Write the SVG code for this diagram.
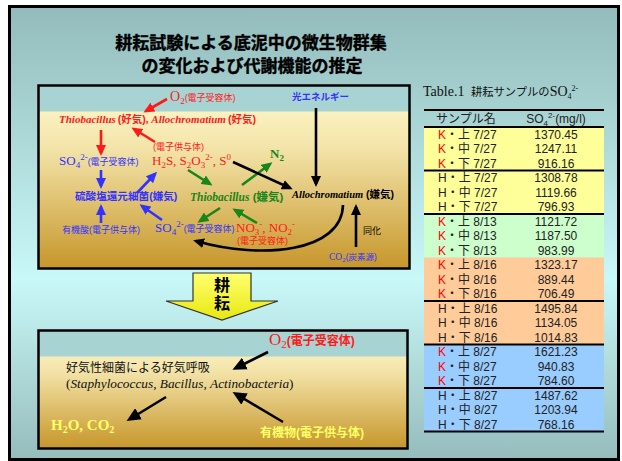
<svg xmlns="http://www.w3.org/2000/svg" width="622" height="461" viewBox="0 0 622 461">
<defs>
<linearGradient id="bg" x1="0" y1="0" x2="0" y2="1">
<stop offset="0" stop-color="#93BBBB"/><stop offset="0.6" stop-color="#C9F8F8"/><stop offset="1" stop-color="#96BCBC"/>
</linearGradient>
<linearGradient id="soil" x1="0" y1="0" x2="0" y2="1">
<stop offset="0" stop-color="#FFFBD0"/><stop offset="0.35" stop-color="#F3E3A8"/><stop offset="1" stop-color="#C6962A"/>
</linearGradient>
<linearGradient id="yel" x1="0" y1="0" x2="0" y2="1">
<stop offset="0" stop-color="#FFFF70"/><stop offset="1" stop-color="#E8E810"/>
</linearGradient>
<marker id="mr" markerUnits="userSpaceOnUse" markerWidth="11" markerHeight="10" refX="8" refY="5" orient="auto"><path d="M0,0 L11,5 L0,10 z" fill="#FF1A1A"/></marker>
<marker id="mb" markerUnits="userSpaceOnUse" markerWidth="11" markerHeight="10" refX="8" refY="5" orient="auto"><path d="M0,0 L11,5 L0,10 z" fill="#3333FF"/></marker>
<marker id="mg" markerUnits="userSpaceOnUse" markerWidth="11" markerHeight="10" refX="8" refY="5" orient="auto"><path d="M0,0 L11,5 L0,10 z" fill="#18861A"/></marker>
<marker id="mk" markerUnits="userSpaceOnUse" markerWidth="11" markerHeight="10" refX="8" refY="5" orient="auto"><path d="M0,0 L11,5 L0,10 z" fill="#000"/></marker>
<marker id="mK" markerUnits="userSpaceOnUse" markerWidth="14" markerHeight="13" refX="10" refY="6.5" orient="auto"><path d="M0,0 L14,6.5 L0,13 z" fill="#000"/></marker>
</defs>
<style>
.jp{font-family:"Liberation Sans","Noto Sans CJK JP",sans-serif}
.tm{font-family:"Liberation Serif","Noto Sans CJK JP",serif}
.b{font-weight:bold}
.i{font-style:italic}
.red{fill:#FF1A1A}
.blu{fill:#3333FF}
.grn{fill:#18861A}
.sm{font-size:9px}
.ar{fill:none;stroke-width:2.6}
.tr{font-family:"Liberation Sans","Noto Sans CJK JP",sans-serif;font-size:12px;fill:#222}
.tv{font-family:"Liberation Sans",sans-serif;font-size:12px;fill:#222;text-anchor:middle}
.kk{fill:#FF0000}
.gl{stroke:#000;stroke-width:2.2}
</style>

<rect x="9.5" y="6.5" width="609" height="453" fill="url(#bg)" stroke="#000" stroke-width="3"/>

<g id="title" class="jp b" font-size="17" text-anchor="middle" fill="#000" stroke="#000" stroke-width="0.4">
<text x="251" y="49">耕耘試験による底泥中の微生物群集</text>
<text x="252" y="72">の変化および代謝機能の推定</text>
</g>

<!-- upper box -->
<g id="upper-box">
<rect x="38.5" y="85.5" width="371" height="183" fill="url(#soil)"/>
<rect x="38.5" y="85.5" width="371" height="26" fill="#A8D3D3"/>
<rect x="38.5" y="85.5" width="371" height="183" fill="none" stroke="#000" stroke-width="2.5"/>
</g>

<g id="connectors">
<line class="ar" stroke="#FF1A1A" marker-end="url(#mr)" x1="167" y1="99" x2="146" y2="111"/>
<line class="ar" stroke="#FF1A1A" marker-end="url(#mr)" x1="101" y1="130" x2="101" y2="153"/>
<line class="ar" stroke="#FF1A1A" marker-end="url(#mr)" x1="155" y1="142" x2="134" y2="129"/>
<line class="ar" stroke="#3333FF" marker-end="url(#mb)" x1="101" y1="170" x2="101" y2="186"/>
<line class="ar" stroke="#3333FF" marker-end="url(#mb)" x1="137" y1="193" x2="155" y2="174"/>
<line class="ar" stroke="#3333FF" marker-end="url(#mb)" x1="101" y1="223" x2="101" y2="207"/>
<line class="ar" stroke="#3333FF" marker-end="url(#mb)" x1="162" y1="220" x2="142" y2="206"/>
<line class="ar" stroke="#18861A" marker-end="url(#mg)" x1="188" y1="170" x2="210" y2="184"/>
<line class="ar" stroke="#18861A" marker-end="url(#mg)" x1="242" y1="185" x2="270" y2="164"/>
<line class="ar" stroke="#18861A" marker-end="url(#mg)" x1="220" y1="208" x2="200" y2="221"/>
<line class="ar" stroke="#18861A" marker-end="url(#mg)" x1="257" y1="223" x2="235" y2="210"/>
<line class="ar" stroke="#000" marker-end="url(#mk)" x1="233" y1="162" x2="290" y2="188"/>
<line class="ar" stroke="#000" marker-end="url(#mk)" x1="316" y1="108" x2="316" y2="184"/>
<line class="ar" stroke="#000" marker-end="url(#mk)" x1="356" y1="247" x2="356" y2="207"/>
<path class="ar" stroke="#000" marker-end="url(#mk)" d="M343,205 C342,252 262,260 196,241"/>
</g>

<g id="n-o2-top"><text x="170" y="101" class="tm red" font-size="14">O<tspan font-size="9" dy="3">2</tspan><tspan class="jp" font-size="9" dy="-3">(電子受容体)</tspan></text></g>
<g id="n-aerobic"><text x="59" y="123" class="tm b red" font-size="11"><tspan class="i">Thiobacillus</tspan><tspan class="jp" font-size="10.5" dx="2">(好気)</tspan>, <tspan class="i">Allochromatium</tspan><tspan class="jp" font-size="10.5" dx="2">(好気)</tspan></text></g>
<g id="n-donor1"><text x="153" y="150" class="jp red sm">(電子供与体)</text></g>
<g id="n-so4-top"><text x="59" y="165" class="tm blu" font-size="13">SO<tspan font-size="9" dy="3">4</tspan><tspan font-size="9" dy="-8">2-</tspan><tspan class="jp" font-size="9" dy="5">(電子受容体)</tspan></text></g>
<g id="n-h2s"><text x="152" y="165" class="tm red" font-size="13">H<tspan font-size="9" dy="3">2</tspan><tspan dy="-3">S, S</tspan><tspan font-size="9" dy="3">2</tspan><tspan dy="-3">O</tspan><tspan font-size="9" dy="3">3</tspan><tspan font-size="9" dy="-8">2-</tspan><tspan dy="5">, S</tspan><tspan font-size="9" dy="-5">0</tspan></text></g>
<g id="n-n2"><text x="270" y="158" class="tm b grn" font-size="13">N<tspan font-size="9" dy="3">2</tspan></text></g>
<g id="n-light"><text x="292" y="100" class="jp b blu" font-size="9.5">光エネルギー</text></g>
<g id="n-srb"><text x="75" y="200" class="jp b blu" font-size="10.6">硫酸塩還元細菌(嫌気)</text></g>
<g id="n-thio-an"><text x="190" y="201" class="tm b grn" font-size="11.5"><tspan class="i">Thiobacillus</tspan><tspan class="jp"> (嫌気)</tspan></text></g>
<g id="n-allo-an"><text x="292" y="198" class="tm b" font-size="10.5" fill="#000"><tspan class="i">Allochromatium</tspan><tspan class="jp"> (嫌気)</tspan></text></g>
<g id="n-orgacid"><text x="62" y="233" class="jp blu sm">有機酸(電子供与体)</text></g>
<g id="n-so4-low"><text x="155" y="232" class="tm blu" font-size="13">SO<tspan font-size="9" dy="3">4</tspan><tspan font-size="9" dy="-8">2-</tspan><tspan class="jp" font-size="9" dy="5">(電子受容体)</tspan></text></g>
<g id="n-no3"><text x="236" y="232" class="tm red" font-size="13">NO<tspan font-size="9" dy="3">3</tspan><tspan font-size="9" dy="-8">-</tspan><tspan dy="5">, NO</tspan><tspan font-size="9" dy="3">2</tspan><tspan font-size="9" dy="-8">-</tspan></text>
<text x="237" y="244" class="jp red sm">(電子受容体)</text></g>
<g id="n-assim"><text x="363" y="234" class="jp sm" fill="#000">同化</text></g>
<g id="n-co2"><text x="329" y="260" class="tm blu" font-size="9.5">CO<tspan font-size="7" dy="2">2</tspan><tspan class="jp" font-size="8.5" dy="-2">(炭素源)</tspan></text></g>

<!-- tillage arrow -->
<g id="n-tillage">
<polygon points="193,273 251,273 251,301 278,301 222,320 166,301 193,301" fill="url(#yel)" stroke="#333" stroke-width="1.2"/>
<text x="222" y="291" class="jp b" font-size="16" text-anchor="middle" fill="#000">耕</text>
<text x="222" y="309" class="jp b" font-size="16" text-anchor="middle" fill="#000">耘</text>
</g>

<!-- lower box -->
<g id="lower-box">
<rect x="38.5" y="330.5" width="369" height="118" fill="url(#soil)"/>
<rect x="38.5" y="330.5" width="369" height="26" fill="#A8D3D3"/>
<rect x="38.5" y="330.5" width="369" height="118" fill="none" stroke="#000" stroke-width="2.5"/>
</g>
<g id="connectors-lower">
<line class="ar" stroke="#000" stroke-width="3.5" marker-end="url(#mK)" x1="268" y1="352" x2="236" y2="368"/>
<line class="ar" stroke="#000" stroke-width="3.5" marker-end="url(#mK)" x1="166" y1="397" x2="130" y2="419"/>
<line class="ar" stroke="#000" stroke-width="3.5" marker-end="url(#mK)" x1="283" y1="422" x2="236" y2="394"/>
</g>
<g id="n-o2-low"><text x="269" y="345" class="tm red" font-size="17">O<tspan font-size="11" dy="3">2</tspan><tspan class="jp b" font-size="12" dy="-3">(電子受容体)</tspan></text></g>
<g id="n-aerobic-resp">
<text x="66" y="372" class="jp" font-size="12" fill="#111">好気性細菌による好気呼吸</text>
<text x="66" y="388" class="tm" font-size="13.3" fill="#111">(<tspan class="i">Staphylococcus</tspan>, <tspan class="i">Bacillus</tspan>, <tspan class="i">Actinobacteria</tspan>)</text>
</g>
<g id="n-h2o"><text x="51" y="430" class="tm b" font-size="15" fill="#FFFF66">H<tspan font-size="10" dy="3">2</tspan><tspan dy="-3">O, CO</tspan><tspan font-size="10" dy="3">2</tspan></text></g>
<g id="n-organic"><text x="260" y="437" class="jp b" font-size="12" fill="#FFFF66">有機物(電子供与体)</text></g>

<!-- table -->
<g id="table">
<text x="423" y="96" class="tm" font-size="14" fill="#111">Table.1 <tspan class="jp" font-size="11.3" dx="3">耕耘サンプルの</tspan>SO<tspan font-size="8" dy="3">4</tspan><tspan font-size="8" dy="-8">2-</tspan></text>
<rect x="424" y="127" width="180" height="87" fill="#FFFF99"/>
<rect x="424" y="214" width="180" height="43.5" fill="#CCFFCC"/>
<rect x="424" y="257.5" width="180" height="87" fill="#FFCC99"/>
<rect x="424" y="344.5" width="180" height="87" fill="#99CCFF"/>
<line class="gl" x1="424" y1="110" x2="604" y2="110"/>
<line class="gl" x1="424" y1="127" x2="604" y2="127"/>
<line class="gl" x1="424" y1="170.5" x2="604" y2="170.5"/>
<line class="gl" x1="424" y1="214" x2="604" y2="214"/>
<line class="gl" x1="424" y1="301" x2="604" y2="301"/>
<line class="gl" x1="424" y1="344.5" x2="604" y2="344.5"/>
<line class="gl" x1="424" y1="388" x2="604" y2="388"/>
<line class="gl" x1="424" y1="431.5" x2="604" y2="431.5"/>
<text x="436" y="123" class="tr" font-size="12.5">サンプル名</text>
<text x="556" y="123" class="tv">SO<tspan font-size="8" dy="3">4</tspan><tspan font-size="8" dy="-8">2-</tspan><tspan dy="5">(mg/l)</tspan></text>

<text x="438" y="138.5" class="tr"><tspan class="kk">K</tspan>・上 7/27</text><text x="556" y="138.5" class="tv">1370.45</text>
<text x="438" y="153" class="tr"><tspan class="kk">K</tspan>・中 7/27</text><text x="556" y="153" class="tv">1247.11</text>
<text x="438" y="167.5" class="tr"><tspan class="kk">K</tspan>・下 7/27</text><text x="556" y="167.5" class="tv">916.16</text>
<text x="438" y="182" class="tr">H・上 7/27</text><text x="556" y="182" class="tv">1308.78</text>
<text x="438" y="196.5" class="tr">H・中 7/27</text><text x="556" y="196.5" class="tv">1119.66</text>
<text x="438" y="211" class="tr">H・下 7/27</text><text x="556" y="211" class="tv">796.93</text>
<text x="438" y="225.5" class="tr"><tspan class="kk">K</tspan>・上 8/13</text><text x="556" y="225.5" class="tv">1121.72</text>
<text x="438" y="240" class="tr"><tspan class="kk">K</tspan>・中 8/13</text><text x="556" y="240" class="tv">1187.50</text>
<text x="438" y="254.5" class="tr"><tspan class="kk">K</tspan>・下 8/13</text><text x="556" y="254.5" class="tv">983.99</text>
<text x="438" y="269" class="tr"><tspan class="kk">K</tspan>・上 8/16</text><text x="556" y="269" class="tv">1323.17</text>
<text x="438" y="283.5" class="tr"><tspan class="kk">K</tspan>・中 8/16</text><text x="556" y="283.5" class="tv">889.44</text>
<text x="438" y="298" class="tr"><tspan class="kk">K</tspan>・下 8/16</text><text x="556" y="298" class="tv">706.49</text>
<text x="438" y="312.5" class="tr">H・上 8/16</text><text x="556" y="312.5" class="tv">1495.84</text>
<text x="438" y="327" class="tr">H・中 8/16</text><text x="556" y="327" class="tv">1134.05</text>
<text x="438" y="341.5" class="tr">H・下 8/16</text><text x="556" y="341.5" class="tv">1014.83</text>
<text x="438" y="356" class="tr"><tspan class="kk">K</tspan>・上 8/27</text><text x="556" y="356" class="tv">1621.23</text>
<text x="438" y="370.5" class="tr"><tspan class="kk">K</tspan>・中 8/27</text><text x="556" y="370.5" class="tv">940.83</text>
<text x="438" y="385" class="tr"><tspan class="kk">K</tspan>・下 8/27</text><text x="556" y="385" class="tv">784.60</text>
<text x="438" y="399.5" class="tr">H・上 8/27</text><text x="556" y="399.5" class="tv">1487.62</text>
<text x="438" y="414" class="tr">H・中 8/27</text><text x="556" y="414" class="tv">1203.94</text>
<text x="438" y="428.5" class="tr">H・下 8/27</text><text x="556" y="428.5" class="tv">768.16</text>
</g>
</svg>
